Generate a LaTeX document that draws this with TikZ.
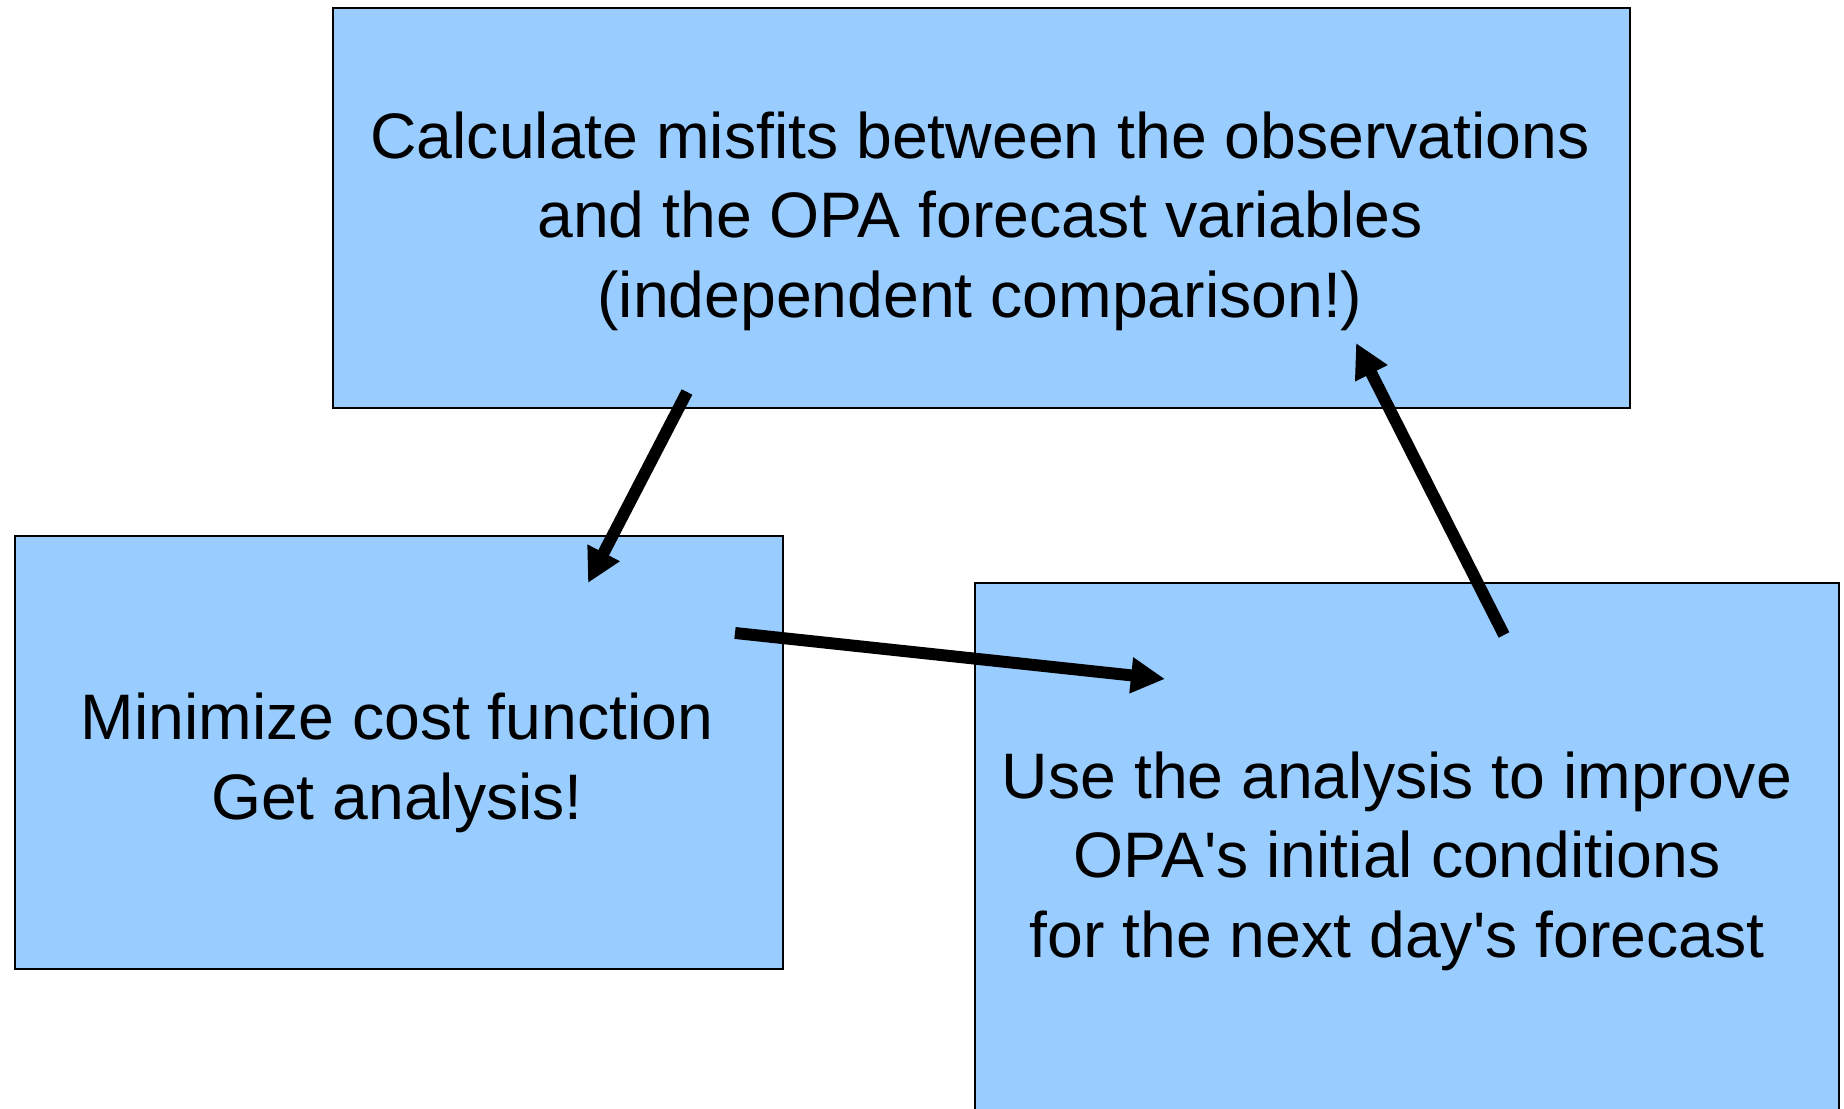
\documentclass[tikz,border=0pt]{standalone}
\usepackage{fontspec}
\setmainfont{Liberation Sans}
\usetikzlibrary{arrows.meta}
\definecolor{boxblue}{HTML}{99CCFF}
\tikzset{
    box/.style={draw=black, line width=0.5pt, fill=boxblue, anchor=north west},
    txt/.style={align=center, font=\fontsize{18.3}{22.6}\selectfont, inner sep=0pt},
    flow/.style={line width=3.4pt, -{Triangle[length=0.34cm,width=0.34cm]}}
}
\begin{document}
\begin{tikzpicture}
    \useasboundingbox (0,0) rectangle (18.44,11.09);
    % Boxes
    \node[box, minimum width=12.97cm, minimum height=4cm] (calc) at (3.32,11.02) {};
    \node[box, minimum width=7.68cm, minimum height=4.33cm] (minimize) at (0.14,5.74) {};
    \node[box, minimum width=8.64cm, minimum height=5.8cm] (improve) at (9.74,5.27) {};
    % Texts
    \node[txt] (calctext) at (9.80,8.88) {Calculate misfits between the observations\\and the OPA forecast variables\\(independent comparison!)};
    \node[txt] (mintext) at (3.97,3.46) {Minimize cost function\\Get analysis!};
    \node[txt] (imptext) at (13.97,2.48) {Use the analysis to improve\\OPA\textquotesingle s initial conditions\\for the next day\textquotesingle s forecast};
    % Arrow ends
    \coordinate (calcout) at (6.87,7.17);
    \coordinate (minin) at (5.88,5.26);
    \coordinate (minout) at (7.35,4.76);
    \coordinate (impin) at (11.65,4.30);
    \coordinate (impout) at (15.04,4.74);
    \coordinate (calcin) at (13.56,7.66);
    % Cycle
    \draw[flow] (calcout) -- (minin);
    \draw[flow] (minout) -- (impin);
    \draw[flow] (impout) -- (calcin);
\end{tikzpicture}
\end{document}
